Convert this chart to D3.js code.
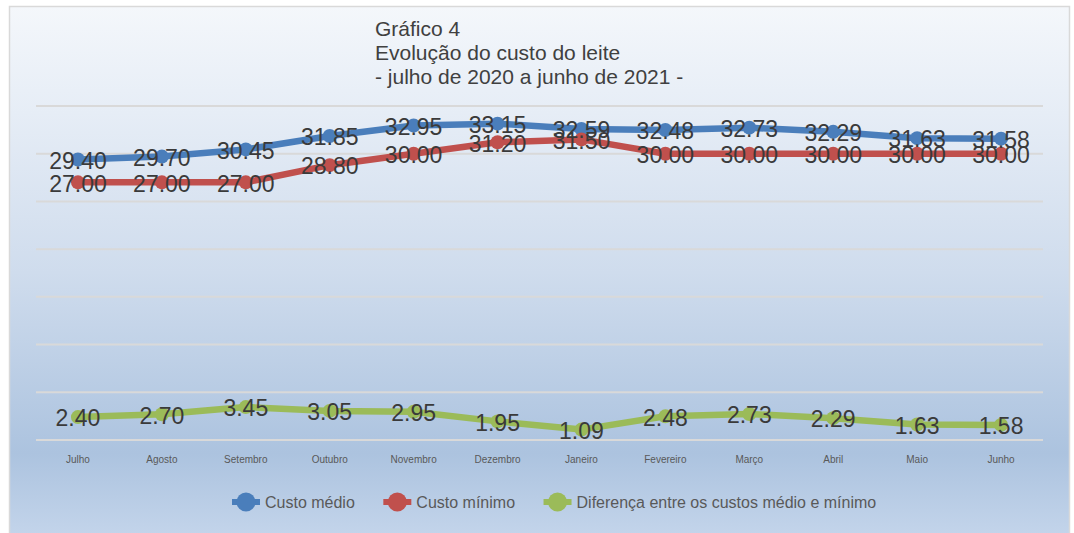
<!DOCTYPE html>
<html>
<head>
<meta charset="utf-8">
<script src="https://cdn.jsdelivr.net/npm/d3@7/dist/d3.min.js"></script>
<style>
  html, body { margin: 0; padding: 0; background: #ffffff; }
  svg { display: block; font-family: "Liberation Sans", Arial, sans-serif; }
</style>
</head>
<body>
<svg id="chart" width="1074" height="533"></svg>
<script>
const categories = ["Julho", "Agosto", "Setembro", "Outubro", "Novembro", "Dezembro",
  "Janeiro", "Fevereiro", "Março", "Abril", "Maio", "Junho"];
const custoMedio = [29.40, 29.70, 30.45, 31.85, 32.95, 33.15, 32.59, 32.48, 32.73, 32.29, 31.63, 31.58];
const custoMinimo = [27.00, 27.00, 27.00, 28.80, 30.00, 31.20, 31.50, 30.00, 30.00, 30.00, 30.00, 30.00];
const diferenca = [2.40, 2.70, 3.45, 3.05, 2.95, 1.95, 1.09, 2.48, 2.73, 2.29, 1.63, 1.58];
const gridTicks = [0, 5, 10, 15, 20, 25, 30, 35];
const titleLines = ["Gráfico 4", "Evolução do custo do leite", "- julho de 2020 a junho de 2021 -"];
const seriesNames = ["Custo médio", "Custo mínimo", "Diferença entre os custos médio e mínimo"];
const seriesColors = ["#4a7ebb", "#c0504d", "#9bbb59"];

const svg = d3.select("#chart");

// background gradient
const defs = svg.append("defs");
const grad = defs.append("linearGradient").attr("id", "bg").attr("x1", 0).attr("y1", 0).attr("x2", 0).attr("y2", 1);
[[0, "#f4f7fb"], [0.2, "#e6edf6"], [0.5, "#cfdced"], [0.84, "#acc3df"], [1, "#c4d5eb"]].forEach(s =>
  grad.append("stop").attr("offset", s[0]).attr("stop-color", s[1]));

svg.append("rect").attr("x", 9.5).attr("y", 6.5).attr("width", 1060).attr("height", 532)
  .attr("fill", "url(#bg)").attr("stroke", "#d9d9d9").attr("stroke-width", 1.5);

const x = d3.scaleBand().domain(categories).range([36, 1043]);
const cx = d => x(d) + x.bandwidth() / 2;
const y = d3.scaleLinear().domain([0, 35]).range([440, 106]);

// gridlines
svg.append("g").selectAll("line").data(gridTicks).join("line")
  .attr("x1", 36).attr("x2", 1043)
  .attr("y1", d => y(d)).attr("y2", d => y(d))
  .attr("stroke", "#d9d9d9").attr("stroke-width", 2);

// x axis labels
const xAxis = d3.axisBottom(x).tickSize(0).tickPadding(0);
const gx = svg.append("g").attr("transform", "translate(0,456)").call(xAxis);
gx.select(".domain").remove();
gx.selectAll("text").attr("font-size", 10).attr("fill", "#595959")
  .attr("font-family", "Liberation Sans, Arial, sans-serif");

// title
const title = svg.append("text").attr("x", 375).attr("y", 36)
  .attr("font-size", 21).attr("fill", "#404040");
titleLines.forEach((t, i) => title.append("tspan").attr("x", 375).attr("dy", i === 0 ? 0 : 24).text(t));

const allSeries = [custoMedio, custoMinimo, diferenca];
const line = d3.line().x((d, i) => cx(categories[i])).y(d => y(d));

allSeries.forEach((vals, si) => {
  const g = svg.append("g");
  g.append("path").datum(vals).attr("d", line).attr("fill", "none")
    .attr("stroke", seriesColors[si]).attr("stroke-width", 6.5).attr("stroke-linejoin", "round");
  g.selectAll("circle").data(vals).join("circle")
    .attr("cx", (d, i) => cx(categories[i])).attr("cy", d => y(d)).attr("r", 7)
    .attr("fill", seriesColors[si]);
});

// data labels
allSeries.forEach((vals, si) => {
  svg.append("g").selectAll("text").data(vals).join("text")
    .attr("x", (d, i) => cx(categories[i]))
    .attr("y", d => y(d) + 1)
    .attr("dy", "0.36em")
    .attr("text-anchor", "middle")
    .attr("font-size", 23).attr("fill", "#3a3a3a")
    .text(d => d.toFixed(2));
});

// legend
const legend = svg.append("g").attr("transform", "translate(0,502)");
let lx = 232;
seriesNames.forEach((name, si) => {
  const it = legend.append("g");
  it.append("line").attr("x1", lx).attr("x2", lx + 28).attr("y1", 0).attr("y2", 0)
    .attr("stroke", seriesColors[si]).attr("stroke-width", 6);
  it.append("circle").attr("cx", lx + 14).attr("cy", 0).attr("r", 9.5).attr("fill", seriesColors[si]);
  const t = it.append("text").attr("x", lx + 33).attr("y", 0).attr("dy", "0.35em")
    .attr("font-size", 16).attr("fill", "#595959").text(name);
  lx = lx + 33 + t.node().getComputedTextLength() + 28.5;
});
</script>
</body>
</html>
